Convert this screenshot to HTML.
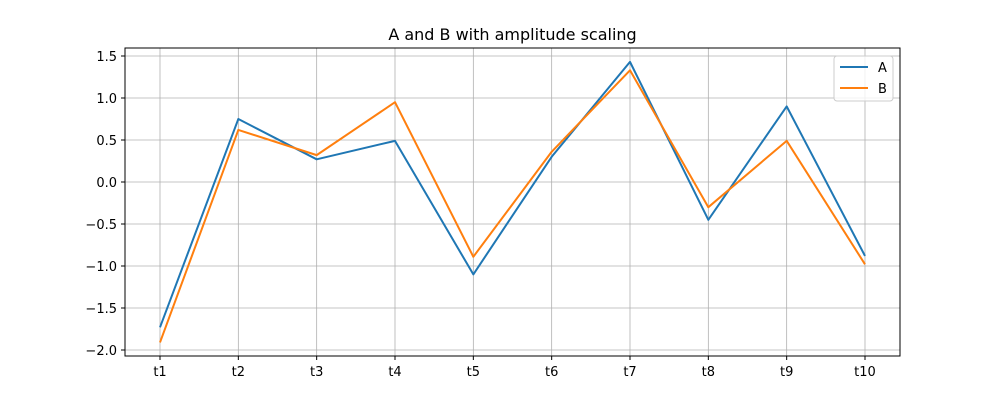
<!DOCTYPE html>
<html><head><meta charset="utf-8"><style>
body{margin:0;background:#fff;}
svg text{font-family:"DejaVu Sans","Liberation Sans",sans-serif;}
</style></head><body>
<svg id="chart" width="1000" height="400">
<rect x="0" y="0" width="1000" height="400" fill="#fff"/>
<text x="512.5" y="40" text-anchor="middle" font-size="16">A and B with amplitude scaling</text>
<g id="grid"></g>
<g id="series"></g>
<rect x="125" y="48" width="775" height="308" fill="none" stroke="#000" stroke-width="1"/>
<g id="axes"></g>
<g>
<rect x="834" y="56" width="59" height="45" rx="3" fill="#fff" fill-opacity="0.8" stroke="#ccc"/>
<g><line x1="840" y1="67" x2="868" y2="67" stroke="#1f77b4" stroke-width="2"/><text x="878" y="72" font-size="13">A</text></g>
<g><line x1="840" y1="88" x2="868" y2="88" stroke="#ff7f0e" stroke-width="2"/><text x="878" y="93" font-size="13">B</text></g>
</g>
</svg>
<script>
const categories=["t1","t2","t3","t4","t5","t6","t7","t8","t9","t10"];
const seriesA=[-1.73,0.75,0.27,0.49,-1.10,0.30,1.43,-0.45,0.90,-0.88];
const seriesB=[-1.91,0.62,0.32,0.95,-0.89,0.36,1.33,-0.30,0.49,-0.98];
const yTicks=[-2.0,-1.5,-1.0,-0.5,0.0,0.5,1.0,1.5];
const NS="http://www.w3.org/2000/svg";
const x=i=>160+i*(865-160)/(categories.length-1);
const y=v=>182-v*84;
const grid=document.getElementById('grid'),axes=document.getElementById('axes'),ser=document.getElementById('series');
function mk(tag,attrs,parent){const e=document.createElementNS(NS,tag);for(const k in attrs)e.setAttribute(k,attrs[k]);parent.appendChild(e);return e;}
categories.forEach((c,i)=>{
 const g=mk('line',{x1:x(i),x2:x(i),y1:48,y2:356,stroke:'#b0b0b0','stroke-width':0.8},grid);
 
 
 mk('line',{x1:x(i),x2:x(i),y1:356,y2:360,stroke:'#000'},axes);
 const t=mk('text',{x:x(i),y:376,'text-anchor':'middle','font-size':13},axes);t.textContent=c;
 
 
});
yTicks.forEach(v=>{
 const g=mk('line',{x1:125,x2:900,y1:y(v),y2:y(v),stroke:'#b0b0b0','stroke-width':0.8},grid);
 
 
 mk('line',{x1:121,x2:125,y1:y(v),y2:y(v),stroke:'#000'},axes);
 const t=mk('text',{x:117,y:y(v)+5,'text-anchor':'end','font-size':13},axes);t.textContent=(v<0?'\u2212':'')+Math.abs(v).toFixed(1);
 
 
});
[[seriesA,'#1f77b4','line-a'],[seriesB,'#ff7f0e','line-b']].forEach(([d,c,n])=>{
 const p=mk('polyline',{points:d.map((v,i)=>x(i)+','+y(v)).join(' '),fill:'none',stroke:c,'stroke-width':2,'stroke-linejoin':'round'},ser);
 
 
});
</script>
</body></html>
